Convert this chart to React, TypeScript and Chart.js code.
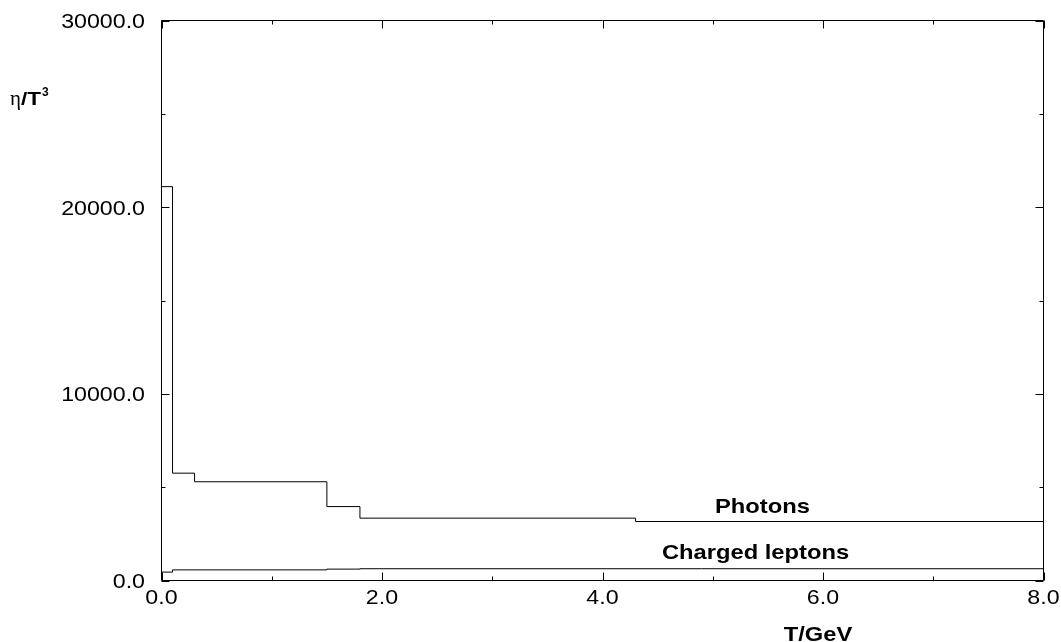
import React, { useEffect, useRef } from "react";
import { Chart, registerables } from "chart.js";

Chart.register(...registerables);

// Photons: temperature where each step starts, and eta/T^3 on that step
const photonT = [0, 0.1, 0.3, 1.5, 1.8, 4.3, 8.0];
const photonEta = [21100, 5750, 5290, 3960, 3340, 3160, 3160];
// Charged leptons
const leptonT = [0, 0.1, 1.5, 1.8, 8.0];
const leptonEta = [450, 570, 610, 630, 630];

const xMajorTicks = [0, 2, 4, 6, 8];
const xMinorTicks = [1, 3, 5, 7];
const xTickLabels = ["0.0", "2.0", "4.0", "6.0", "8.0"];
const yMajorTicks = [0, 10000, 20000, 30000];
const yMinorTicks = [5000, 15000, 25000];
const yTickLabels = ["0.0", "10000.0", "20000.0", "30000.0"];

const seriesNames = ["Photons", "Charged leptons"];
const xTitle = "T/GeV";

function drawText(
  ctx: CanvasRenderingContext2D,
  s: string,
  x: number,
  y: number,
  font: string,
  align: CanvasTextAlign,
  sx: number
) {
  ctx.save();
  ctx.font = font;
  ctx.translate(x, y);
  ctx.scale(sx, 1);
  ctx.textAlign = align;
  ctx.textBaseline = "alphabetic";
  ctx.fillStyle = "#000";
  ctx.fillText(s, 0, 0);
  ctx.restore();
}

const framePlugin = {
  id: "frame",
  afterDraw(chart: any) {
    const ctx: CanvasRenderingContext2D = chart.ctx;
    const xs = chart.scales.x;
    const ys = chart.scales.y;
    const { left, right, top, bottom } = chart.chartArea;
    ctx.save();
    ctx.strokeStyle = "#000";
    ctx.lineWidth = 1;
    ctx.beginPath();
    ctx.rect(left, top, right - left, bottom - top);
    ctx.stroke();
    const majorLen = 8;
    const minorLen = 4;
    ctx.beginPath();
    const xt = (v: number, len: number) => {
      const px = Math.round(xs.getPixelForValue(v)) + 0.5;
      ctx.moveTo(px, bottom);
      ctx.lineTo(px, bottom - len);
      ctx.moveTo(px, top);
      ctx.lineTo(px, top + len);
    };
    const yt = (v: number, len: number) => {
      const py = Math.round(ys.getPixelForValue(v)) + 0.5;
      ctx.moveTo(left, py);
      ctx.lineTo(left + len, py);
      ctx.moveTo(right, py);
      ctx.lineTo(right - len, py);
    };
    xMajorTicks.forEach((v) => xt(v, majorLen));
    xMinorTicks.forEach((v) => xt(v, minorLen));
    yMajorTicks.forEach((v) => yt(v, majorLen));
    yMinorTicks.forEach((v) => yt(v, minorLen));
    ctx.stroke();
    ctx.restore();

    const numFont = "20px 'Liberation Sans', Arial, sans-serif";
    xMajorTicks.forEach((v, i) => {
      drawText(ctx, xTickLabels[i], xs.getPixelForValue(v), 604, numFont, "center", 1.16);
    });
    yMajorTicks.forEach((v, i) => {
      drawText(ctx, yTickLabels[i], 145, ys.getPixelForValue(v) + 7.5, numFont, "right", 1.16);
    });

    const boldFont = "bold 21px 'Liberation Sans', Arial, sans-serif";
    drawText(ctx, seriesNames[0], 762.5, 513, boldFont, "center", 1.13);
    drawText(ctx, seriesNames[1], 755.5, 559, boldFont, "center", 1.13);
    drawText(ctx, xTitle, 818, 641, boldFont, "center", 1.13);

    // y axis title  eta/T^3
    ctx.save();
    ctx.fillStyle = "#000";
    ctx.textBaseline = "alphabetic";
    ctx.font = "21px 'Liberation Serif', 'DejaVu Serif', serif";
    ctx.fillText("η", 10, 105);
    let x = 10 + ctx.measureText("η").width;
    ctx.font = "bold 18px 'Liberation Sans', Arial, sans-serif";
    ctx.save();
    ctx.translate(x, 105);
    ctx.scale(1.25, 1);
    ctx.fillText("/T", 0, 0);
    ctx.restore();
    x += ctx.measureText("/T").width * 1.25 + 1;
    ctx.font = "bold 12px 'Liberation Sans', Arial, sans-serif";
    ctx.fillText("3", x, 96);
    ctx.restore();
  },
};

export default function App() {
  const ref = useRef<HTMLCanvasElement | null>(null);
  useEffect(() => {
    document.body.style.margin = "0";
    if (!ref.current) return;
    const chart = new Chart(ref.current, {
      type: "line",
      data: {
        datasets: [
          {
            label: seriesNames[0],
            data: photonT.map((t, i) => ({ x: t, y: photonEta[i] })),
            borderColor: "#000",
            borderWidth: 1,
            pointRadius: 0,
            stepped: "before",
            fill: false,
          },
          {
            label: seriesNames[1],
            data: leptonT.map((t, i) => ({ x: t, y: leptonEta[i] })),
            borderColor: "#000",
            borderWidth: 1,
            pointRadius: 0,
            stepped: "before",
            fill: false,
          },
        ],
      },
      options: {
        animation: false,
        responsive: false,
        maintainAspectRatio: false,
        layout: { padding: { left: 161.5, right: 17.5, top: 20.5, bottom: 61.5 } },
        plugins: { legend: { display: false }, tooltip: { enabled: false } },
        scales: {
          x: { type: "linear", min: 0, max: 8, display: false },
          y: { type: "linear", min: 0, max: 30000, display: false },
        },
      },
      plugins: [framePlugin],
    });
    return () => chart.destroy();
  }, []);
  return (
    <div style={{ position: "fixed", left: 0, top: 0, width: 1061, height: 642, background: "#fff" }}>
      <canvas ref={ref} width={1061} height={642} style={{ width: 1061, height: 642 }} />
    </div>
  );
}
